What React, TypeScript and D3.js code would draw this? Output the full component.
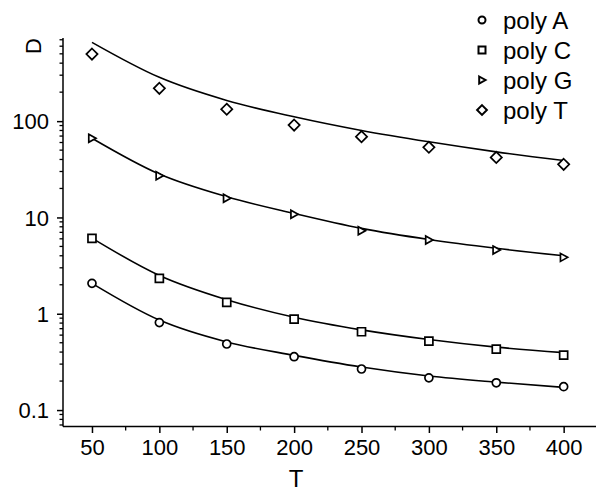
import { useEffect, useRef } from "react";
import * as d3 from "d3";

const T_VALUES = [50, 100, 150, 200, 250, 300, 350, 400];
const SERIES_NAMES = ["poly A", "poly C", "poly G", "poly T"];

// measured points
const POLY_A = [2.07, 0.81, 0.485, 0.358, 0.267, 0.216, 0.192, 0.175];
const POLY_C = [6.07, 2.33, 1.31, 0.88, 0.65, 0.52, 0.43, 0.372];
const POLY_G = [66.3, 27.1, 15.8, 10.8, 7.28, 5.83, 4.58, 3.85];
const POLY_T = [497, 219, 133, 91, 69, 53.5, 42, 35.6];

// fitted curves at the same T values
const FIT_A = [2.07, 0.86, 0.51, 0.37, 0.28, 0.226, 0.195, 0.172];
const FIT_C = [6.1, 2.5, 1.4, 0.92, 0.68, 0.54, 0.45, 0.395];
const FIT_G = [66.5, 28.2, 16.4, 11.0, 7.7, 5.9, 4.78, 4.0];
const FIT_T = [658, 285, 164, 111, 80, 61, 48, 39];

const Y_TICKS = [0.1, 1, 10, 100];

const width = 596;
const height = 493;
const font = "'Liberation Sans', Arial, sans-serif";

// marker paths centred on 0,0
const markerPath = (kind: string, s: number) => {
  if (kind === "circle") {
    const r = s / 2;
    return `M${r},0A${r},${r} 0 1,1 ${-r},0A${r},${r} 0 1,1 ${r},0Z`;
  }
  if (kind === "square") {
    const h = s / 2;
    return `M${-h},${-h}H${h}V${h}H${-h}Z`;
  }
  if (kind === "triangle") {
    const h = s / 2;
    return `M${-h * 0.8},${-h}L${h},0L${-h * 0.8},${h}Z`;
  }
  const h = s * 0.7;
  return `M0,${-h}L${h},0L0,${h}L${-h},0Z`;
};

export default function App() {
  const ref = useRef<SVGSVGElement>(null);

  useEffect(() => {
    const svg = d3.select(ref.current);
    svg.selectAll("*").remove();

    const x = d3.scaleLinear().domain([28.5, 424]).range([63, 596]);
    const y = d3.scaleLog().domain([0.0675, 730]).range([426.5, 38]);

    const series = [
      { name: SERIES_NAMES[0], kind: "circle", pts: POLY_A, fit: FIT_A },
      { name: SERIES_NAMES[1], kind: "square", pts: POLY_C, fit: FIT_C },
      { name: SERIES_NAMES[2], kind: "triangle", pts: POLY_G, fit: FIT_G },
      { name: SERIES_NAMES[3], kind: "diamond", pts: POLY_T, fit: FIT_T },
    ];

    // axes
    const minorY = y.ticks().filter((v) => !Y_TICKS.includes(v));
    const yAxis = svg.append("g").attr("transform", "translate(63,0)");
    yAxis
      .call(
        d3
          .axisLeft(y)
          .tickValues(Y_TICKS)
          .tickFormat((d) => String(d))
          .tickSize(6)
          .tickPadding(8)
      )
      .call((g) => g.select(".domain").attr("d", `M0,38V426.5`));
    yAxis
      .selectAll(".minor")
      .data(minorY)
      .join("line")
      .attr("x1", -3.5)
      .attr("x2", 0)
      .attr("y1", (d) => y(d))
      .attr("y2", (d) => y(d))
      .attr("stroke", "#000")
      .attr("stroke-width", 1.3);

    const xAxis = svg.append("g").attr("transform", "translate(0,426.5)");
    xAxis
      .call(
        d3
          .axisBottom(x)
          .tickValues(T_VALUES)
          .tickSize(6.5)
          .tickPadding(6)
      )
      .call((g) => g.select(".domain").attr("d", `M63,0H596`));
    xAxis
      .selectAll(".minor")
      .data(d3.range(75, 400, 50))
      .join("line")
      .attr("x1", (d) => x(d))
      .attr("x2", (d) => x(d))
      .attr("y1", 0)
      .attr("y2", 4)
      .attr("stroke", "#000")
      .attr("stroke-width", 1.3);

    svg
      .selectAll(".domain, .tick line")
      .attr("stroke", "#000")
      .attr("stroke-width", 1.5);
    svg
      .selectAll(".tick text")
      .attr("fill", "#000")
      .attr("font-family", font)
      .attr("font-size", 22);
    yAxis.selectAll(".tick text").attr("dy", "0.35em");

    svg
      .append("text")
      .attr("x", 296)
      .attr("y", 487)
      .attr("text-anchor", "middle")
      .attr("font-family", font)
      .attr("font-size", 24)
      .text("T");

    svg
      .append("text")
      .attr("transform", "translate(41,46) rotate(-90)")
      .attr("text-anchor", "middle")
      .attr("font-family", font)
      .attr("font-size", 22)
      .text("D");

    // fit curves
    const line = d3
      .line<number>()
      .x((_, i) => x(T_VALUES[i]))
      .y((d) => y(d))
      .curve(d3.curveMonotoneX);

    svg
      .selectAll(".fit")
      .data(series)
      .join("path")
      .attr("d", (s) => line(s.fit))
      .attr("fill", "none")
      .attr("stroke", "#000")
      .attr("stroke-width", 1.6);

    // markers
    series.forEach((s) => {
      svg
        .append("g")
        .selectAll("path")
        .data(s.pts)
        .join("path")
        .attr("transform", (d, i) => `translate(${x(T_VALUES[i])},${y(d)})`)
        .attr("d", markerPath(s.kind, 8))
        .attr("fill", "#fff")
        .attr("stroke", "#000")
        .attr("stroke-width", 1.7);
    });

    // legend
    const legend = svg
      .append("g")
      .selectAll("g")
      .data(series)
      .join("g")
      .attr("transform", (_, i) => `translate(482,${20 + i * 30})`);
    legend
      .append("path")
      .attr("d", (s) => markerPath(s.kind, 7))
      .attr("fill", "#fff")
      .attr("stroke", "#000")
      .attr("stroke-width", 2);
    legend
      .append("text")
      .attr("x", 21)
      .attr("y", 8.5)
      .attr("font-family", font)
      .attr("font-size", 24)
      .text((s) => s.name);
  }, []);

  return (
    <svg
      ref={ref}
      width={width}
      height={height}
      style={{ position: "absolute", left: 0, top: 0, background: "#fff" }}
    />
  );
}
